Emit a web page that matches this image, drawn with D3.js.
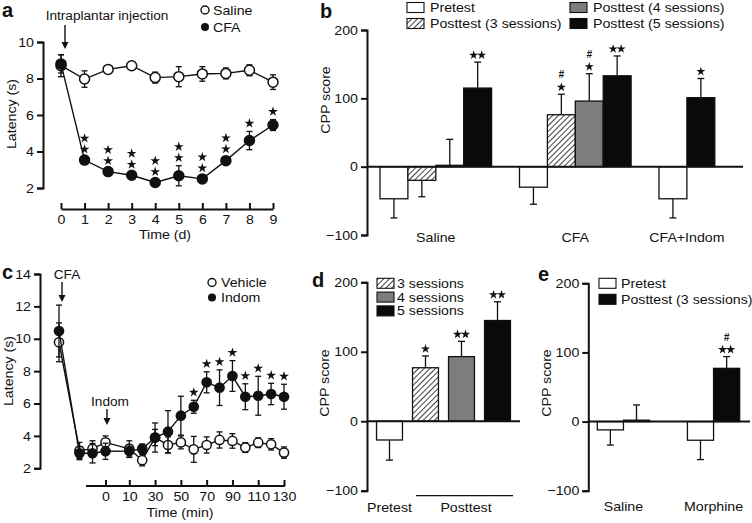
<!DOCTYPE html>
<html><head><meta charset="utf-8">
<script src="https://cdn.jsdelivr.net/npm/d3@7/dist/d3.min.js"></script>
<style>
body{margin:0;background:#fff;}
svg{display:block;}
text{font-family:'Liberation Sans',Arial,Helvetica,sans-serif;fill:#111;}
</style></head>
<body>
<svg id="chart" width="752" height="523"></svg>
<script>
// ---------- DATA ----------
// Panel a
const daysA = [0,1,2,3,4,5,6,7,8,9];
const salineA = [8.7,7.97,8.5,8.7,8.05,8.1,8.25,8.28,8.45,7.8];
const salineErrA = [0.6,0.45,0.2,0.15,0.3,0.55,0.4,0.3,0.3,0.4];
const cfaA = [8.8,3.53,2.9,2.7,2.3,2.67,2.5,3.5,4.6,5.45];
const cfaErrA = [0.5,0.15,0.15,0.15,0.15,0.55,0.15,0.2,0.5,0.3];
const starsA = [0,2,2,2,2,2,2,2,1,1];
const ticksA_y = [2,4,6,8,10];

// Panel b
const groupsB = ["Saline","CFA","CFA+Indom"];
const seriesB = ["Pretest","Posttest (3 sessions)","Posttest (4 sessions)","Posttest (5 sessions)"];
const valuesB = [[-47,-20,2,115],[-30,76,96,133],[-47,null,null,101]];
const errorsB = [[28,24,38,38],[25,30,40,29],[28,null,null,28]];
const marksB = [["","","","**"],["","*#","*#","**"],["","","","*"]];
const ticksCPP = [-100,0,100,200];

// Panel c
const timesC = [-40,-20,-10,0,10,20,30,40,50,60,70,80,90,100,110,120,130];
const vehicleC = [9.78,3.1,3.2,3.6,3.2,2.5,3.9,3.44,3.6,3.17,3.44,3.75,3.69,3.28,3.58,3.48,2.97];
const vehicleErrC = [1.2,0.5,0.5,0.4,0.5,0.35,0.5,0.5,0.4,0.8,0.5,0.5,0.45,0.3,0.3,0.35,0.35];
const indomC = [10.48,2.93,2.93,3.05,3.07,3.2,3.9,4.26,5.25,5.8,7.31,6.98,7.7,6.42,6.48,6.59,6.42];
const indomErrC = [1.6,0.4,0.6,0.5,0.4,0.3,0.9,1.3,1.2,0.4,0.65,1.1,0.95,0.8,1.2,0.66,0.77];
const starsC = [0,0,0,0,0,0,0,0,0,1,1,1,1,1,1,1,1];
const ticksC_x = [0,10,30,50,70,90,110,130];
const ticksC_y = [2,4,6,8,10,12,14];

// Panel d
const catsD = ["Pretest","3 sessions","4 sessions","5 sessions"];
const valuesD = [-27,77,93,145];
const errorsD = [29,17,22,27];
const marksD = ["","*","**","**"];

// Panel e
const groupsE = ["Saline","Morphine"];
const seriesE = ["Pretest","Posttest (3 sessions)"];
const valuesE = [[-12,2],[-27,77]];
const errorsE = [[22,22],[28,17]];
const marksE = [["",""],["","**#"]];

// ---------- DRAW ----------
const svg = d3.select("#chart");
const defs = svg.append("defs");
const pat = defs.append("pattern").attr("id","hatch").attr("patternUnits","userSpaceOnUse")
  .attr("width",4).attr("height",4).attr("patternTransform","rotate(45)");
pat.append("rect").attr("width",4).attr("height",4).attr("fill","#fff");
pat.append("line").attr("x1",0).attr("y1",0).attr("x2",0).attr("y2",4).attr("stroke","#111").attr("stroke-width",1.6);

const fillFor = {"Pretest":"#fff","Posttest (3 sessions)":"url(#hatch)","Posttest (4 sessions)":"#7d7d7d","Posttest (5 sessions)":"#0a0a0a",
  "3 sessions":"url(#hatch)","4 sessions":"#7d7d7d","5 sessions":"#0a0a0a"};
const fillE = {"Pretest":"#fff","Posttest (3 sessions)":"#0a0a0a"};
const FS = 13;
const STRETCH = 1.09;
const starSym = d3.symbol(d3.symbolStar).size(30);

function styleAxis(g){
  g.selectAll("path.domain").attr("stroke","#111").attr("stroke-width",2);
  g.selectAll(".tick line").attr("stroke","#111").attr("stroke-width",2);
  g.selectAll(".tick text").attr("font-size",FS).attr("fill","#111").attr("font-family","'Liberation Sans',Arial,sans-serif").classed("st",true);
}
function panelLabel(x,y,t){
  svg.append("text").attr("x",x).attr("y",y).attr("font-size",20).attr("font-weight","bold").text(t);
}
function yTitle(x,y,t){
  svg.append("text").attr("class","st").attr("transform",`translate(${x},${y}) rotate(-90)`).attr("text-anchor","middle")
    .attr("font-size",FS).text(t);
}
function label(x,y,t,anchor,size){
  return svg.append("text").attr("class","st").attr("x",x).attr("y",y).attr("text-anchor",anchor||"start").attr("font-size",size||FS).text(t);
}
function arrow(x,y1,y2){
  svg.append("line").attr("x1",x).attr("x2",x).attr("y1",y1).attr("y2",y2-5).attr("stroke","#111").attr("stroke-width",1.4);
  svg.append("path").attr("d",`M${x-3.5},${y2-7}L${x+3.5},${y2-7}L${x},${y2}Z`).attr("fill","#111");
}
function drawStars(g,x,yTop,n){
  for(let k=0;k<n;k++){
    g.append("path").attr("d",starSym).attr("transform",`translate(${x},${yTop-8-k*11})`).attr("fill","#111");
  }
}
function lineSeries(g,xs,vals,errs,x,y,filled,r){
  const gg = g.append("g");
  xs.forEach((t,i)=>{
    const cx=x(t);
    gg.append("line").attr("x1",cx).attr("x2",cx).attr("y1",y(vals[i]-errs[i])).attr("y2",y(vals[i]+errs[i])).attr("stroke","#111").attr("stroke-width",1.3);
    [vals[i]-errs[i],vals[i]+errs[i]].forEach(v=>gg.append("line").attr("x1",cx-3).attr("x2",cx+3).attr("y1",y(v)).attr("y2",y(v)).attr("stroke","#111").attr("stroke-width",1.3));
  });
  gg.append("path").datum(xs.map((t,i)=>[t,vals[i]])).attr("d",d3.line().x(d=>x(d[0])).y(d=>y(d[1])))
    .attr("fill","none").attr("stroke","#111").attr("stroke-width",1.4);
  gg.selectAll("circle").data(xs.map((t,i)=>[t,vals[i]])).join("circle")
    .attr("cx",d=>x(d[0])).attr("cy",d=>y(d[1])).attr("r",r)
    .attr("fill",filled?"#111":"#fff").attr("stroke","#111").attr("stroke-width",1.5);
}
function barErr(g,cx,y,v,e,capW){
  const end = v>=0 ? v+e : v-e;
  g.append("line").attr("x1",cx).attr("x2",cx).attr("y1",y(v)).attr("y2",y(end)).attr("stroke","#111").attr("stroke-width",1.3);
  g.append("line").attr("x1",cx-capW).attr("x2",cx+capW).attr("y1",y(end)).attr("y2",y(end)).attr("stroke","#111").attr("stroke-width",1.3);
  return y(end);
}
function marks(g,cx,yTop,m){
  const nStar = (m.match(/\*/g)||[]).length;
  const hash = m.includes("#");
  let yy = yTop-7;
  if(nStar>0){
    for(let k=0;k<nStar;k++){
      const off = (k-(nStar-1)/2)*8;
      g.append("path").attr("d",d3.symbol(d3.symbolStar).size(26)).attr("transform",`translate(${cx+off},${yy})`).attr("fill","#111");
    }
    yy -= 13;
  }
  if(hash){
    g.append("text").attr("x",cx).attr("y",yy+4).attr("text-anchor","middle").attr("font-size",10).attr("font-style","italic").attr("font-weight","bold").text("#");
  }
}

// ===== Panel a =====
{
  const g = svg.append("g");
  const x = d3.scaleLinear().domain([0,9]).range([61,273]);
  const y = d3.scaleLinear().domain([2,10]).range([188,42]);
  const ay = g.append("g").attr("transform","translate(43,0)").call(d3.axisLeft(y).tickValues(ticksA_y).tickSizeOuter(0).tickSize(6).tickPadding(3));
  styleAxis(ay);
  const ax = g.append("g").attr("transform","translate(0,209)").call(d3.axisBottom(x).tickValues(daysA).tickSizeOuter(0).tickSizeInner(-6).tickPadding(6));
  styleAxis(ax);
  lineSeries(g,daysA,salineA,salineErrA,x,y,false,5);
  lineSeries(g,daysA,cfaA,cfaErrA,x,y,true,5);
  daysA.forEach((d,i)=>{ if(starsA[i]) drawStars(g,x(d),y(cfaA[i]+cfaErrA[i]),starsA[i]); });
  label(165,239,"Time (d)","middle");
  yTitle(16,114,"Latency (s)");
  panelLabel(2,17,"a");
  label(107,19.5,"Intraplantar injection","middle",12.5);
  arrow(x(0)+4,25,49);
  const lg = svg.append("g");
  lg.append("circle").attr("cx",205).attr("cy",10).attr("r",4).attr("fill","#fff").attr("stroke","#111").attr("stroke-width",1.4);
  label(213,14.5,"Saline");
  lg.append("circle").attr("cx",205).attr("cy",27).attr("r",4).attr("fill","#111");
  label(213,31.5,"CFA");
}

// ===== Panel b =====
{
  const g = svg.append("g");
  const y = d3.scaleLinear().domain([-100,200]).range([235,30]);
  const slot = d3.scaleLinear().domain([0,1]).range([380,407.9]);
  const ay = g.append("g").attr("transform","translate(367,0)").call(d3.axisLeft(y).tickValues(ticksCPP).tickSizeOuter(0).tickSize(6).tickPadding(3));
  styleAxis(ay);
  let s = 0;
  groupsB.forEach((grp,gi)=>{
    const startSlot = s;
    valuesB[gi].forEach((v,si)=>{
      if(v===null) return;
      const x0 = slot(s), x1 = slot(s+1);
      g.append("rect").attr("x",x0).attr("width",x1-x0).attr("y",Math.min(y(v),y(0))).attr("height",Math.abs(y(v)-y(0)))
        .attr("fill",fillFor[seriesB[si]]).attr("stroke","#111").attr("stroke-width",1.3);
      const top = barErr(g,(x0+x1)/2,y,v,errorsB[gi][si],3.5);
      if(marksB[gi][si]) marks(g,(x0+x1)/2,top,marksB[gi][si]);
      s++;
    });
    label((slot(startSlot)+slot(s))/2,242,grp,"middle");
    s++;
  });
  g.append("line").attr("x1",367).attr("x2",743).attr("y1",y(0)).attr("y2",y(0)).attr("stroke","#111").attr("stroke-width",2);
  yTitle(330,100,"CPP score");
  panelLabel(320,18,"b");
  const lp = [[407,7.5],[407,23.5],[570,7.5],[570,23.5]];
  seriesB.forEach((sr,i)=>{
    const [lx,ly] = lp[i];
    g.append("rect").attr("x",lx).attr("y",ly-5).attr("width",17).attr("height",10).attr("fill",fillFor[sr]).attr("stroke","#111").attr("stroke-width",1.1);
    label(lx+23,ly+4.5,sr);
  });
}

// ===== Panel c =====
{
  const g = svg.append("g");
  const x = d3.scaleLinear().domain([-40,-20,0,10,130]).range([59,79.5,105.5,129.3,284]);
  const y = d3.scaleLinear().domain([2,14]).range([468.3,274]);
  const ay = g.append("g").attr("transform","translate(40,0)").call(d3.axisLeft(y).tickValues(ticksC_y).tickSizeOuter(0).tickSize(6).tickPadding(3));
  styleAxis(ay);
  const ax = g.append("g").attr("transform","translate(0,486)").call(d3.axisBottom(x).tickValues(ticksC_x).tickSizeOuter(0).tickSizeInner(-6).tickPadding(6));
  styleAxis(ax);
  ax.select("path.domain").attr("d","M86,0H285");
  lineSeries(g,timesC,vehicleC,vehicleErrC,x,y,false,4.6);
  lineSeries(g,timesC,indomC,indomErrC,x,y,true,4.6);
  timesC.forEach((t,i)=>{ if(starsC[i]) drawStars(g,x(t),y(indomC[i]+indomErrC[i]),starsC[i]); });
  label(180,517,"Time (min)","middle");
  yTitle(13,371,"Latency (s)");
  panelLabel(2,279,"c");
  label(67,278.5,"CFA","middle",12.5);
  arrow(62,282,302);
  label(110,405.5,"Indom","middle",12.5);
  arrow(107,409,425);
  const lg = svg.append("g");
  lg.append("circle").attr("cx",212).attr("cy",282.5).attr("r",4).attr("fill","#fff").attr("stroke","#111").attr("stroke-width",1.4);
  label(221,287,"Vehicle");
  lg.append("circle").attr("cx",212).attr("cy",297.5).attr("r",4).attr("fill","#111");
  label(221,302,"Indom");
}

// ===== Panel d =====
{
  const g = svg.append("g");
  const y = d3.scaleLinear().domain([-100,200]).range([490.7,282.3]);
  const x = d3.scaleBand().domain(catsD).range([371.5,515.5]).paddingInner(0.28).paddingOuter(0.14);
  const ay = g.append("g").attr("transform","translate(367,0)").call(d3.axisLeft(y).tickValues(ticksCPP).tickSizeOuter(0).tickSize(6).tickPadding(3));
  styleAxis(ay);
  catsD.forEach((c,i)=>{
    const v = valuesD[i];
    g.append("rect").attr("x",x(c)).attr("width",x.bandwidth()).attr("y",Math.min(y(v),y(0))).attr("height",Math.abs(y(v)-y(0)))
      .attr("fill",fillFor[c]).attr("stroke","#111").attr("stroke-width",1.3);
    const top = barErr(g,x(c)+x.bandwidth()/2,y,v,errorsD[i],3.5);
    if(marksD[i]) marks(g,x(c)+x.bandwidth()/2,top,marksD[i]);
  });
  g.append("line").attr("x1",367).attr("x2",520).attr("y1",y(0)).attr("y2",y(0)).attr("stroke","#111").attr("stroke-width",2);
  label(x("Pretest")+x.bandwidth()/2,512,"Pretest","middle");
  g.append("line").attr("x1",416).attr("x2",513).attr("y1",495.7).attr("y2",495.7).attr("stroke","#111").attr("stroke-width",1.3);
  label(466,512,"Posttest","middle");
  yTitle(329,383,"CPP score");
  panelLabel(312,287,"d");
  catsD.slice(1).forEach((c,i)=>{
    const ly = 283.3 + i*13.8;
    g.append("rect").attr("x",377).attr("y",ly-5).attr("width",17).attr("height",10).attr("fill",fillFor[c]).attr("stroke","#111").attr("stroke-width",1.1);
    label(397,ly+4.5,c);
  });
}

// ===== Panel e =====
{
  const g = svg.append("g");
  const y = d3.scaleLinear().domain([-100,200]).range([490.7,283.3]);
  const x = d3.scaleBand().domain(groupsE).range([591,746]).paddingInner(0.42).paddingOuter(0.07);
  const ay = g.append("g").attr("transform","translate(588.3,0)").call(d3.axisLeft(y).tickValues(ticksCPP).tickSizeOuter(0).tickSize(6).tickPadding(3));
  styleAxis(ay);
  const sub = d3.scaleBand().domain(seriesE).range([0,x.bandwidth()]);
  groupsE.forEach((grp,gi)=>{
    seriesE.forEach((sr,si)=>{
      const v = valuesE[gi][si];
      const x0 = x(grp)+sub(sr);
      g.append("rect").attr("x",x0).attr("width",sub.bandwidth()).attr("y",Math.min(y(v),y(0))).attr("height",Math.abs(y(v)-y(0)))
        .attr("fill",fillE[sr]).attr("stroke","#111").attr("stroke-width",1.3);
      const top = barErr(g,x0+sub.bandwidth()/2,y,v,errorsE[gi][si],3.5);
      if(marksE[gi][si]) marks(g,x0+sub.bandwidth()/2,top,marksE[gi][si]);
    });
    label(x(grp)+x.bandwidth()/2,511,grp,"middle");
  });
  g.append("line").attr("x1",588.3).attr("x2",750).attr("y1",y(0)).attr("y2",y(0)).attr("stroke","#111").attr("stroke-width",2);
  yTitle(551,383,"CPP score");
  panelLabel(538,281,"e");
  seriesE.forEach((sr,i)=>{
    const ly = 283.3 + i*16;
    g.append("rect").attr("x",599).attr("y",ly-5).attr("width",17).attr("height",10).attr("fill",fillE[sr]).attr("stroke","#111").attr("stroke-width",1.1);
    label(621,ly+4.5,sr);
  });
}

// widen text slightly to match the reference's wide typeface
svg.selectAll("text.st").each(function(){
  const L = this.getComputedTextLength();
  this.setAttribute("textLength", (L*STRETCH).toFixed(1));
  this.setAttribute("lengthAdjust","spacingAndGlyphs");
});
</script>
</body></html>
